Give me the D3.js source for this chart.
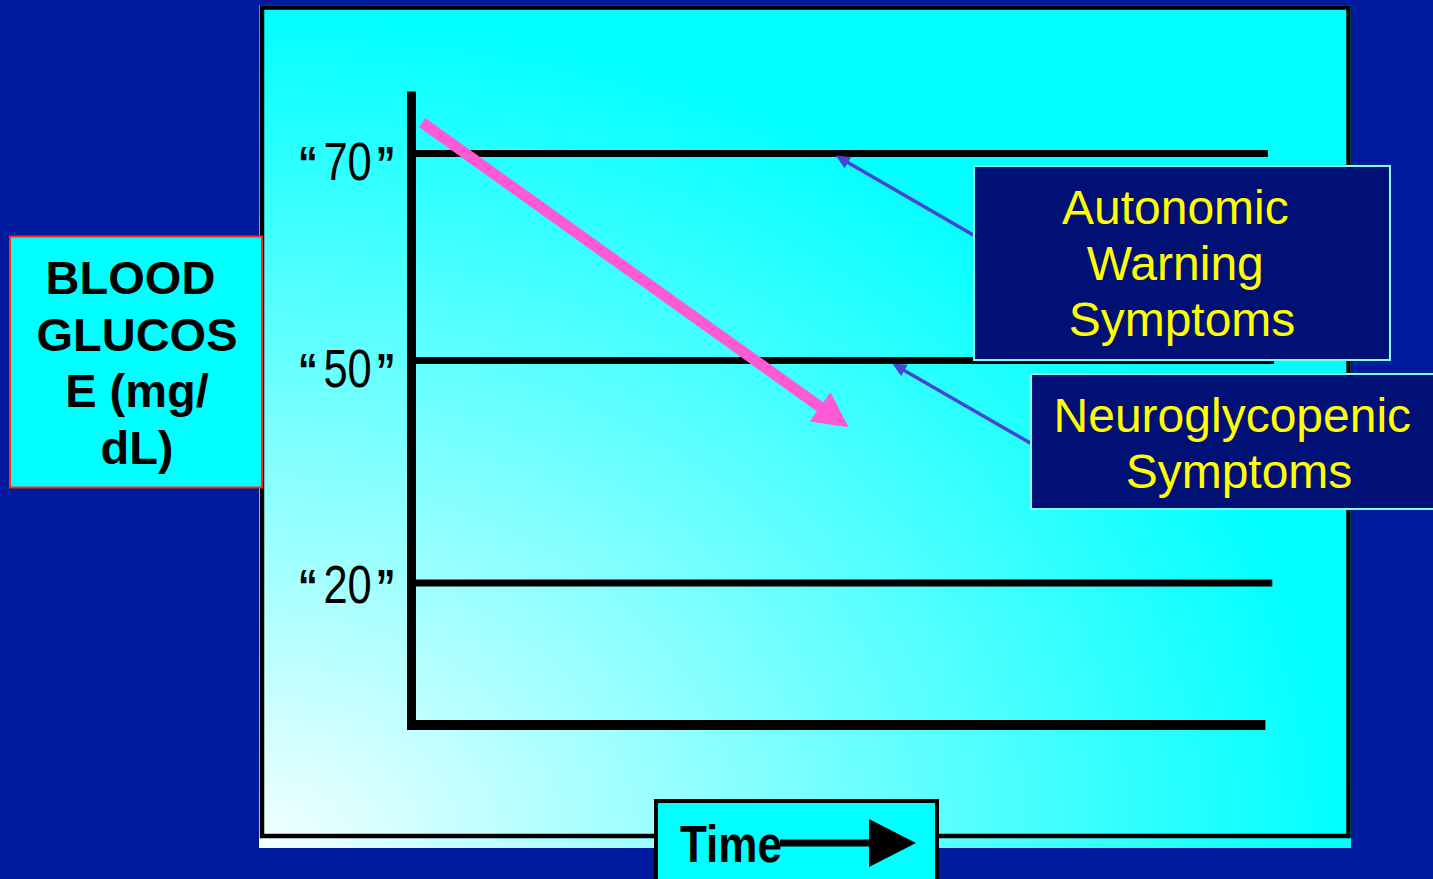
<!DOCTYPE html>
<html><head><meta charset="utf-8">
<script src="https://cdn.jsdelivr.net/npm/d3@7"></script>
<style>html,body{margin:0;padding:0;background:#001a9e;overflow:hidden}</style>
</head><body>
<svg id="c" width="1433" height="879"></svg>
<script>
// ---- data ----
const levels = [70, 50, 20];
const levelLabels = ["70", "50", "20"];
const levelEnds = [1.0, 1.007, 1.005];   // relative time where each threshold line ends
const baselineValue = 0;
const trend = [{t: 0.012, v: 73}, {t: 0.51, v: 41}];
const annotationTitles = [["Autonomic ", "Warning ", "Symptoms"], ["Neuroglycopenic ", "Symptoms"]];
const annotationTargets = [{t: 0.495, v: 69.8}, {t: 0.561, v: 49.6}];
const yLabelLines = ["BLOOD ", "GLUCOS", "E (mg/", "dL)"];
const xLabel = "Time";

// ---- layout ----
const svg = d3.select("#c");
const W = 1433, H = 879;
svg.append("rect").attr("width", W).attr("height", H).attr("fill", "#001a9e");

const defs = svg.append("defs");
const rg = defs.append("radialGradient").attr("id", "pg")
  .attr("gradientUnits", "objectBoundingBox").attr("cx", 0).attr("cy", 1).attr("r", 1).attr("fx", 0).attr("fy", 1);
rg.append("stop").attr("offset", 0).attr("stop-color", "#f4ffff");
rg.append("stop").attr("offset", 1).attr("stop-color", "#00ffff");

// panel fill (extends slightly below frame) and frame
svg.append("rect").attr("x", 259).attr("y", 5).attr("width", 1092).attr("height", 843).attr("fill", "url(#pg)");
svg.append("rect").attr("x", 262).attr("y", 7.5).attr("width", 1086.5).attr("height", 828.5)
  .attr("fill", "none").attr("stroke", "#000").attr("stroke-width", 4.5);

// scales
const x = d3.scaleLinear().domain([0, 1]).range([412, 1268]);
const y = d3.scaleLinear().domain([0, 20, 50, 70]).range([725, 583, 360.5, 153.5]);

// threshold lines
svg.append("g").selectAll("line").data(levels).join("line")
  .attr("x1", x(0)).attr("x2", (d, i) => x(levelEnds[i]))
  .attr("y1", d => y(d)).attr("y2", d => y(d))
  .attr("stroke", "#000").attr("stroke-width", 7);

// baseline (x axis)
svg.append("line").attr("x1", x(0) - 5).attr("x2", x(0.997))
  .attr("y1", y(baselineValue)).attr("y2", y(baselineValue))
  .attr("stroke", "#000").attr("stroke-width", 10);
// y axis
svg.append("line").attr("x1", x(0) - 0.5).attr("x2", x(0) - 0.5)
  .attr("y1", y(76)).attr("y2", y(baselineValue) + 5)
  .attr("stroke", "#000").attr("stroke-width", 9);

// tick labels  “ 70 ”  (narrow face emulated with a horizontal scale)
const FF = "'Liberation Sans',Arial,sans-serif";
const tick = svg.append("g").selectAll("text").data(levels).join("text")
  .attr("transform", (d, i) => `translate(${x(0) - 114},${y(d) + (i === 2 ? 20 : 26)}) scale(0.82,1)`)
  .attr("font-family", FF).attr("font-size", 53).attr("fill", "#000");
tick.append("tspan").attr("font-weight", "bold").attr("font-size", 48).text("“");
tick.append("tspan").attr("dx", 7).text((d, i) => levelLabels[i]);
tick.append("tspan").attr("dx", 5).attr("font-weight", "bold").attr("font-size", 48).text("”");

// arrow helper
function arrow(g, x1, y1, x2, y2, color, sw, hl, hw) {
  const dx = x2 - x1, dy = y2 - y1, L = Math.hypot(dx, dy);
  const ux = dx / L, uy = dy / L, px = -uy, py = ux;
  const bx = x2 - ux * hl, by = y2 - uy * hl;
  g.append("line").attr("x1", x1).attr("y1", y1).attr("x2", bx + ux * 2).attr("y2", by + uy * 2)
    .attr("stroke", color).attr("stroke-width", sw);
  g.append("path").attr("d", `M${x2},${y2}L${bx + px * hw},${by + py * hw}L${bx - px * hw},${by - py * hw}Z`)
    .attr("fill", color);
}

// pink trend arrow
const tg = svg.append("g");
arrow(tg, x(trend[0].t), y(trend[0].v), x(trend[1].t), y(trend[1].v), "#ff59d6", 11, 35, 18);

// annotation boxes
const boxes = [
  {x: 974, y: 166, w: 416, h: 194, cx: 1182, base: 224, tail: [975, 236]},
  {x: 1031, y: 374, w: 420, h: 135, cx: 1239, base: 432, tail: [1032, 444]}
];
const ag = svg.append("g");
boxes.forEach((b, i) => {
  const tgt = annotationTargets[i];
  arrow(ag, b.tail[0], b.tail[1], x(tgt.t), y(tgt.v), "#4646d6", 3.5, 14, 6.5);
});
boxes.forEach((b, i) => {
  ag.append("rect").attr("x", b.x).attr("y", b.y).attr("width", b.w).attr("height", b.h)
    .attr("fill", "#001074").attr("stroke", "#7ffcff").attr("stroke-width", 2);
  ag.append("g").selectAll("text").data(annotationTitles[i]).join("text")
    .attr("x", b.cx).attr("y", (d, j) => b.base + j * 56)
    .attr("text-anchor", "middle").style("white-space", "pre")
    .attr("font-family", FF).attr("font-size", 48)
    .attr("fill", "#ffff00").text(d => d);
});

// y label box
svg.append("rect").attr("x", 10).attr("y", 236.5).attr("width", 252).attr("height", 251)
  .attr("fill", "#00ffff").attr("stroke", "#ff2a10").attr("stroke-width", 2);
svg.append("g").selectAll("text").data(yLabelLines).join("text")
  .attr("x", 137).attr("y", (d, i) => 294 + i * 56.5)
  .attr("text-anchor", "middle").style("white-space", "pre")
  .attr("font-family", FF).attr("font-weight", "bold")
  .attr("font-size", 47).attr("fill", "#000").text(d => d);

// time box
svg.append("rect").attr("x", 656).attr("y", 801).attr("width", 281).attr("height", 100)
  .attr("fill", "#00ffff").attr("stroke", "#000").attr("stroke-width", 4);
svg.append("text").attr("x", 680).attr("y", 862)
  .attr("font-family", FF)
  .attr("font-weight", "bold").attr("font-size", 52).attr("fill", "#000")
  .attr("textLength", 102).attr("lengthAdjust", "spacingAndGlyphs").text(xLabel);
const timeArrow = svg.append("g");
timeArrow.append("line").attr("x1", 780).attr("x2", 872).attr("y1", 843).attr("y2", 843)
  .attr("stroke", "#000").attr("stroke-width", 7);
timeArrow.append("path").attr("d", "M869,819L916,843L869,867Z").attr("fill", "#000");
</script>
</body></html>
